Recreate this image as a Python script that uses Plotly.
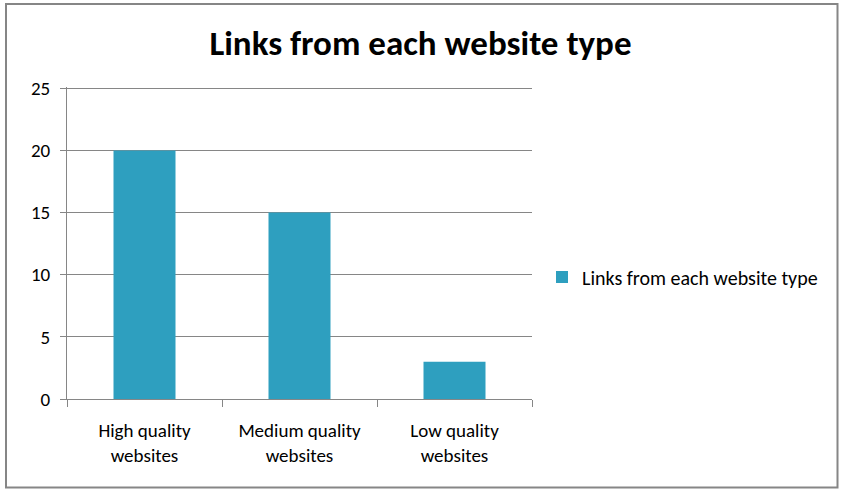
import plotly.graph_objects as go

categories = ["High quality<br>websites", "Medium quality<br>websites", "Low quality<br>websites"]
links = [20, 15, 3]
y_ticks = [0, 5, 10, 15, 20, 25]
y_top = 25.1
series_name = "Links from each website type"

W, H = 841, 492
# plot area: y=0 at 399 px, y=25 at 88 px; x axis from 67 to 532 px
px_per_unit = (399 - 88) / 25
L, R, B = 67, 309, 93
T = round(399 - y_top * px_per_unit)
pw, ph = W - L - R, H - T - B
FONT = "Calibri, Carlito, Lato, sans-serif"
GRID = "#868686"

fig = go.Figure()
fig.add_trace(go.Bar(
    x=categories, y=links, name=series_name, width=0.4,
    marker=dict(color="#2e9fbf", line=dict(width=0)),
))

fig.update_layout(
    width=W, height=H,
    margin=dict(l=L, r=R, t=T, b=B),
    paper_bgcolor="white", plot_bgcolor="white",
    font=dict(family=FONT, size=20, color="black"),
    title=dict(text="<b>Links from each website type</b>", x=0.5, xanchor="center",
               y=1 - 43 / H, yanchor="middle", font=dict(size=35, family=FONT)),
    showlegend=True,
    legend=dict(x=(542 - L) / pw, y=(399 - 277) / ph, xanchor="left", yanchor="middle",
                font=dict(size=20), itemwidth=30),
    bargap=0.6,
)
fig.update_xaxes(showline=True, linecolor=GRID, linewidth=1, ticks="outside",
                 tickson="boundaries", ticklen=7, tickcolor=GRID, showgrid=False,
                 tickfont=dict(size=19), ticklabelstandoff=14)
fig.update_yaxes(range=[0, y_top], tickvals=y_ticks, showline=True, linecolor=GRID,
                 linewidth=1, ticks="outside", ticklen=6, tickcolor=GRID,
                 showgrid=True, gridcolor=GRID, gridwidth=1, zeroline=False,
                 tickfont=dict(size=19), ticklabelstandoff=6)
fig.add_shape(type="rect", xref="paper", yref="paper",
              x0=(6 - L) / pw, x1=(837.5 - L) / pw,
              y0=-(487.5 - (H - B)) / ph, y1=((H - B) - 4) / ph,
              line=dict(color=GRID, width=2), layer="below")

fig.write_html("out.html", config={"displayModeBar": False},
               post_script="document.body.style.margin='0';")
